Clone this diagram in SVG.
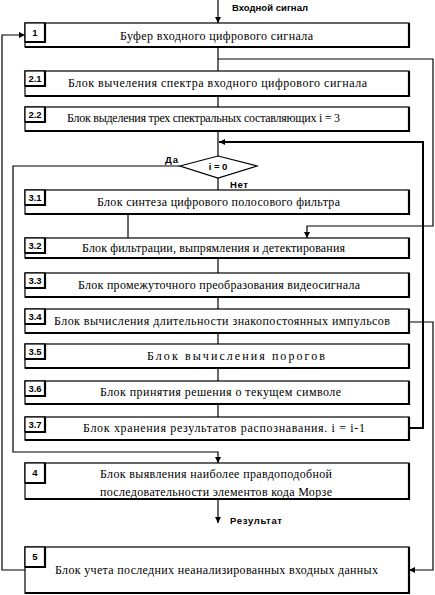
<svg xmlns="http://www.w3.org/2000/svg" width="435" height="595" viewBox="0 0 435 595">
<defs>
<style>
.box{fill:#fff;stroke:#000;stroke-width:1.2}
.sh{fill:none;stroke:#000;stroke-width:2.2}
.lb{fill:#fff;stroke:#000;stroke-width:1.2}
.t{font-family:"Liberation Serif",serif;font-size:12px;fill:#000}
.n{font-family:"Liberation Sans",sans-serif;font-size:9.5px;font-weight:bold;fill:#000;text-anchor:middle}
.l{font-family:"Liberation Sans",sans-serif;font-size:9.5px;font-weight:bold;fill:#000}
.c{fill:none;stroke:#000;stroke-width:1.2}
.c2{fill:none;stroke:#000;stroke-width:2}
</style>
<marker id="a" viewBox="0 0 10 10" refX="10" refY="5" markerWidth="6" markerHeight="6" markerUnits="userSpaceOnUse" orient="auto">
<path d="M0,0 L10,5 L0,10 z" fill="#000"/>
</marker>
</defs>

<g id="connectors">
<line class="c" x1="218" y1="0" x2="218" y2="23" marker-end="url(#a)"/>
<line class="c" x1="218" y1="47" x2="218" y2="71"/>
<polyline class="c" points="218,59 433,59 433,226 307,226 307,238" marker-end="url(#a)"/>
<line class="c" x1="218" y1="96" x2="218" y2="107"/>
<line class="c" x1="218" y1="131" x2="218" y2="156"/>
<line class="c" x1="218" y1="178" x2="218" y2="190"/>
<line class="c" x1="128" y1="214" x2="128" y2="238"/>
<line class="c" x1="218" y1="258" x2="218" y2="273"/>
<line class="c" x1="218" y1="297" x2="218" y2="309"/>
<line class="c" x1="218" y1="333" x2="218" y2="344"/>
<line class="c" x1="218" y1="368" x2="218" y2="381"/>
<line class="c" x1="218" y1="404" x2="218" y2="417"/>
<polyline class="c2" points="409,428 423,428 423,142 219,142" marker-end="url(#a)"/>
<polyline class="c" points="409,322 433,322 433,570 409,570" marker-end="url(#a)"/>
<polyline class="c" points="180,166 13,166 13,452 218,452 218,463" marker-end="url(#a)"/>
<line class="c" x1="218" y1="499" x2="218" y2="523" marker-end="url(#a)"/>
<polyline class="c" points="25,570 2,570 2,35 25,35" marker-end="url(#a)"/>
</g>

<g id="lbl-in"><text class="l" x="232" y="11" textLength="76">Входной сигнал</text></g>
<g id="lbl-yes"><text class="l" x="165" y="163" textLength="13">Да</text></g>
<g id="lbl-no"><text class="l" x="230" y="188" textLength="18">Нет</text></g>
<g id="lbl-res"><text class="l" x="230" y="524" textLength="52">Результат</text></g>

<g id="n1">
<rect class="box" x="25" y="23" width="384" height="24" stroke-width="2"/>
<polyline class="sh" points="25,47 409,47 409,23"/>
<rect class="lb" x="25" y="23" width="20" height="19"/><polyline class="sh" points="25,42 45,42 45,23"/>
<text class="n" x="35" y="36">1</text>
<text class="t" x="120" y="40" textLength="193">Буфер входного цифрового сигнала</text>
</g>

<g id="n21">
<rect class="box" x="25" y="71" width="384" height="25"/>
<polyline class="sh" points="25,96 409,96 409,71"/>
<rect class="lb" x="25" y="71" width="20" height="15"/><polyline class="sh" points="25,86 45,86 45,71"/>
<text class="n" x="35" y="82">2.1</text>
<text class="t" x="68" y="87" textLength="299">Блок вычеления спектра входного цифрового сигнала</text>
</g>

<g id="n22">
<rect class="box" x="25" y="107" width="384" height="24"/>
<polyline class="sh" points="25,131 409,131 409,107"/>
<rect class="lb" x="25" y="107" width="20" height="15"/><polyline class="sh" points="25,122 45,122 45,107"/>
<text class="n" x="35" y="118">2.2</text>
<text class="t" x="67" y="122" textLength="273">Блок выделения трех спектральных составляющих  i = 3</text>
</g>

<g id="dec">
<polygon points="218,156 257,166 218,178 180,166" fill="#fff" stroke="#000" stroke-width="1.2"/>
<text class="l" x="218" y="170" text-anchor="middle">i = 0</text>
</g>

<g id="n31">
<rect class="box" x="25" y="190" width="384" height="24"/>
<polyline class="sh" points="25,214 409,214 409,190"/>
<rect class="lb" x="25" y="190" width="20" height="15"/><polyline class="sh" points="25,205 45,205 45,190"/>
<text class="n" x="35" y="201">3.1</text>
<text class="t" x="97" y="206" textLength="243">Блок синтеза цифрового полосового фильтра</text>
</g>

<g id="n32">
<rect class="box" x="25" y="238" width="384" height="20"/>
<polyline class="sh" points="25,258 409,258 409,238"/>
<rect class="lb" x="25" y="238" width="20" height="15"/><polyline class="sh" points="25,253 45,253 45,238"/>
<text class="n" x="35" y="249">3.2</text>
<text class="t" x="82" y="252" textLength="263">Блок  фильтрации, выпрямления и детектирования</text>
</g>

<g id="n33">
<rect class="box" x="25" y="273" width="384" height="24"/>
<polyline class="sh" points="25,297 409,297 409,273"/>
<rect class="lb" x="25" y="273" width="20" height="15"/><polyline class="sh" points="25,288 45,288 45,273"/>
<text class="n" x="35" y="284">3.3</text>
<text class="t" x="78" y="289" textLength="282">Блок промежуточного преобразования видеосигнала</text>
</g>

<g id="n34">
<rect class="box" x="25" y="309" width="384" height="24"/>
<polyline class="sh" points="25,333 409,333 409,309"/>
<rect class="lb" x="25" y="309" width="20" height="15"/><polyline class="sh" points="25,324 45,324 45,309"/>
<text class="n" x="35" y="320">3.4</text>
<text class="t" x="54" y="325" textLength="336">Блок вычисления длительности знакопостоянных импульсов</text>
</g>

<g id="n35">
<rect class="box" x="25" y="344" width="384" height="24"/>
<polyline class="sh" points="25,368 409,368 409,344"/>
<rect class="lb" x="25" y="344" width="20" height="15"/><polyline class="sh" points="25,359 45,359 45,344"/>
<text class="n" x="35" y="355">3.5</text>
<text class="t" x="147" y="360" textLength="178">Блок вычисления порогов</text>
</g>

<g id="n36">
<rect class="box" x="25" y="381" width="384" height="23"/>
<polyline class="sh" points="25,404 409,404 409,381"/>
<rect class="lb" x="25" y="381" width="20" height="15"/><polyline class="sh" points="25,396 45,396 45,381"/>
<text class="n" x="35" y="392">3.6</text>
<text class="t" x="100" y="396" textLength="241">Блок принятия решения о текущем символе</text>
</g>

<g id="n37">
<rect class="box" x="25" y="417" width="384" height="23"/>
<polyline class="sh" points="25,440 409,440 409,417"/>
<rect class="lb" x="25" y="417" width="20" height="15"/><polyline class="sh" points="25,432 45,432 45,417"/>
<text class="n" x="35" y="428">3.7</text>
<text class="t" x="83" y="432" textLength="282">Блок хранения результатов распознавания. i = i-1</text>
</g>

<g id="n4">
<rect class="box" x="25" y="463" width="384" height="36"/>
<polyline class="sh" points="25,499 409,499 409,463"/>
<rect class="lb" x="25" y="463" width="20" height="20"/><polyline class="sh" points="25,483 45,483 45,463"/>
<text class="n" x="35" y="476">4</text>
<text class="t" x="100" y="478" textLength="232">Блок выявления наиболее правдоподобной</text>
<text class="t" x="100" y="496" textLength="232">последовательности элементов кода Морзе</text>
</g>

<g id="n5">
<rect class="box" x="25" y="547" width="384" height="46"/>
<polyline class="sh" points="25,593 409,593 409,547"/>
<rect class="lb" x="25" y="547" width="20" height="20"/><polyline class="sh" points="25,567 45,567 45,547"/>
<text class="n" x="35" y="560">5</text>
<text class="t" x="55" y="574" textLength="323">Блок учета последних неанализированных входных данных</text>
</g>
</svg>
